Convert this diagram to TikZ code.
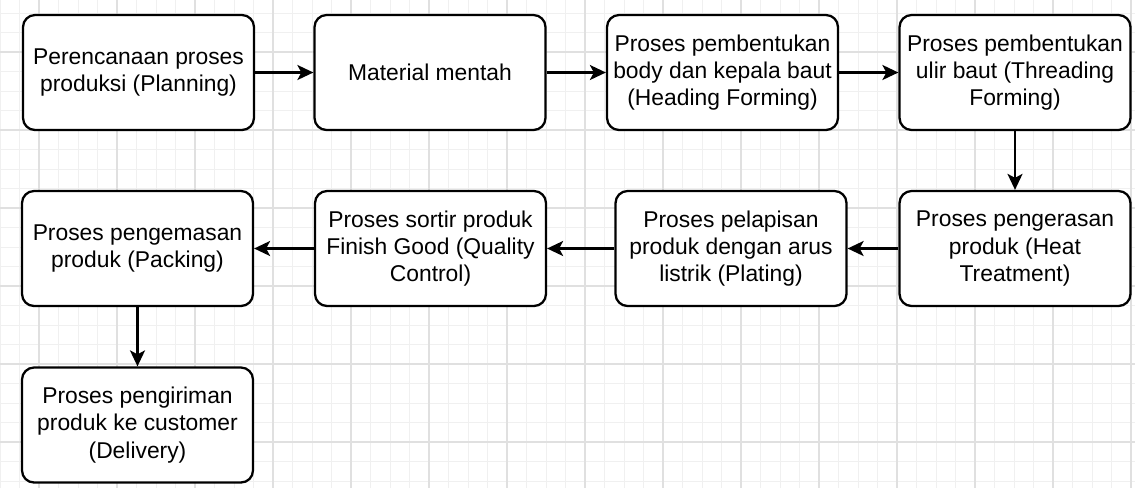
\documentclass[tikz,border=0pt]{standalone}
\usepackage{fontspec}
\setmainfont{Liberation Sans}
\usetikzlibrary{arrows.meta,positioning}

\begin{document}
\begin{tikzpicture}[x=0.02cm,y=-0.02cm,
  proc/.style={draw,rounded corners=0.24cm,line width=1.3pt,fill=white,minimum width=4.62cm,minimum height=2.3cm,inner sep=0pt,align=center,font=\fontsize{13}{15.6}\selectfont},
  flow/.style={-{Stealth[length=0.32cm,width=0.3cm,inset=0.08cm]},line width=1.4pt},
  minorgrid/.style={draw=black!6,line width=0.5pt},
  majorgrid/.style={draw=black!12,line width=0.7pt}]

  \useasboundingbox (0,0) rectangle (1135,488);
  \fill[white] (0,0) rectangle (1135,488);
  \foreach \gx in {0,...,58} \draw[minorgrid] ({\gx*19.5},0) -- ({\gx*19.5},488);
  \foreach \gy in {0,...,24} \draw[minorgrid] (0,{13+\gy*19.5}) -- (1135,{13+\gy*19.5});
  \foreach \gx in {0,...,14} \draw[majorgrid] ({39+\gx*78},0) -- ({39+\gx*78},488);
  \foreach \gy in {0,...,5} \draw[majorgrid] (0,{52+\gy*78}) -- (1135,{52+\gy*78});

  \node[proc] (plan) at (138.5,72.5) {Perencanaan proses\\produksi (Planning)};
  \node[proc] (mat) at (430,72.5) {Material mentah};
  \node[proc] (head) at (722.5,72.5) {Proses pembentukan\\body dan kepala baut\\(Heading Forming)};
  \node[proc] (thread) at (1015,72.5) {Proses pembentukan\\ulir baut (Threading\\Forming)};
  \node[proc] (heat) at (1015,248.5) {Proses pengerasan\\produk (Heat\\Treatment)};
  \node[proc] (plate) at (731,248.5) {Proses pelapisan\\produk dengan arus\\listrik (Plating)};
  \node[proc] (qc) at (430.5,248.5) {Proses sortir produk\\Finish Good (Quality\\Control)};
  \node[proc] (pack) at (137.5,248.5) {Proses pengemasan\\produk (Packing)};
  \node[proc] (deliv) at (137.5,425) {Proses pengiriman\\produk ke customer\\(Delivery)};

  \draw[flow] (plan) -- (mat);
  \draw[flow] (mat) -- (head);
  \draw[flow] (head) -- (thread);
  \draw[flow] (thread) -- (heat);
  \draw[flow] (heat) -- (plate);
  \draw[flow] (plate) -- (qc);
  \draw[flow] (qc) -- (pack);
  \draw[flow] (pack) -- (deliv);
\end{tikzpicture}
\end{document}
